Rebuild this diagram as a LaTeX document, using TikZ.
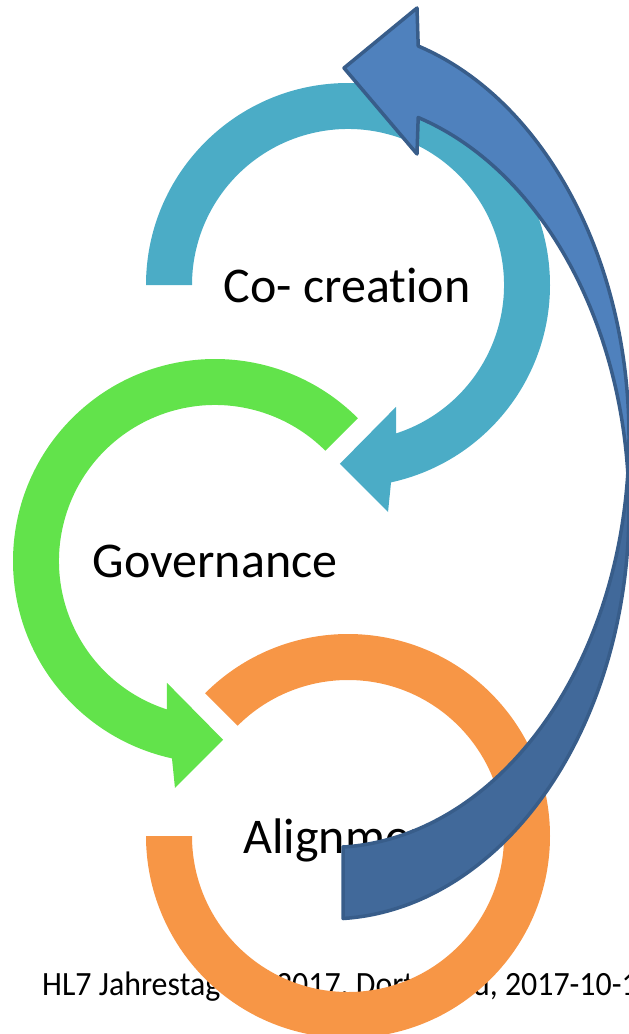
\documentclass[tikz,border=0pt]{standalone}
\usepackage{fontspec}
\setmainfont{Carlito}[Ligatures=NoCommon]
\newfontfamily\footfont{Carlito}[Ligatures=NoCommon]
\usepackage{graphicx}
\definecolor{cocreation}{HTML}{4BACC6}
\definecolor{governance}{HTML}{62E34B}
\definecolor{alignment}{HTML}{F79646}
\definecolor{loopfront}{HTML}{4F81BD}
\definecolor{loopback}{HTML}{41699A}
\definecolor{loopline}{HTML}{385D8A}

\begin{document}
\begin{tikzpicture}[x=1pt,y=1pt,
  ringtext/.style={anchor=base,font=\fontsize{50}{60}\selectfont},
  foottext/.style={anchor=base west,inner sep=0pt,font=\footfont\fontsize{34}{40}\selectfont},
  loop/.style={draw=loopline,line width=3.5,line join=round}]
 \useasboundingbox (0,0) rectangle (629,-1034);
 \clip (0,0) rectangle (629,-1034);

 \node[foottext] (footer) at (42,-995) {\scalebox{0.938}[1]{HL7 Jahrestagung 2017, Dortmund, 2017-10-1}};

 \fill[cocreation, shift={(348,-285)}] (180:202) arc[start angle=180,end angle=-77.7,radius=202]
   -- (-80:230.5) -- (-92.6:179) -- (-68.5:131) -- (-72:156) arc[start angle=-72,end angle=180,radius=156] -- cycle;
 \fill[governance, shift={(215,-561)}] (45:202) arc[start angle=45,end angle=257.7,radius=202]
   -- (260:230.5) -- (272.6:179) -- (248.5:131) -- (252:156) arc[start angle=252,end angle=45,radius=156] -- cycle;
 \fill[alignment, shift={(348,-836)}] (135:202) arc[start angle=135,end angle=-180,radius=202]
   -- (180:156) arc[start angle=-180,end angle=135,radius=156] -- cycle;

 \node[ringtext] (cocre) at (347,-302) {Co- creation};
 \node[ringtext] (gov) at (215,-577) {Governance};
 \node[ringtext] (align) at (348,-853) {Alignment};

 \filldraw[loop, fill=loopback] (343.1,-846.5) -- (343.1,-918.5)
   arc[start angle=-87.3,end angle=5,x radius=300,y radius=410]
   arc[start angle=-5,end angle=-87.3,x radius=300,y radius=410] -- cycle;
 \filldraw[loop, fill=loopfront] (418.2,-45.5) -- (417,-8) -- (344,-68) -- (417,-154) -- (418.2,-117.5)
   arc[start angle=72.7,end angle=5,x radius=300,y radius=410]
   arc[start angle=-5,end angle=72.7,x radius=300,y radius=410] -- cycle;
\end{tikzpicture}
\end{document}
